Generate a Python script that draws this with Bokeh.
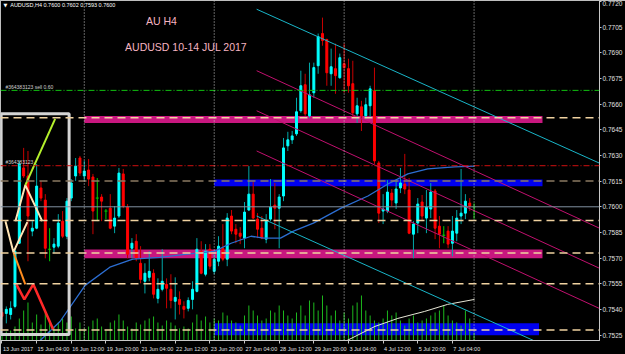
from bokeh.plotting import figure
from bokeh.models import Range1d, FixedTicker, Label, Span, PrintfTickFormatter
from bokeh.embed import file_html
from bokeh.resources import INLINE

# ---------------- data (AUDUSD H4, bars from 13 Jun 20:00 to 10 Jul 00:00) ----------------
opens = [0.75383, 0.75377, 0.75371, 0.75418, 0.75787, 0.76227, 0.76180, 0.75858, 0.75875, 0.76110,
         0.76039, 0.75752, 0.75764, 0.75770, 0.75916, 0.75828, 0.76051, 0.76180, 0.76285, 0.76180,
         0.76215, 0.76174, 0.76051, 0.76057, 0.75975, 0.75992, 0.75887, 0.75946, 0.76192, 0.75998,
         0.75758, 0.75799, 0.75670, 0.75565, 0.75588, 0.75612, 0.75465, 0.75518, 0.75547, 0.75518,
         0.75448, 0.75459, 0.75418, 0.75407, 0.75459, 0.75506, 0.75740, 0.75606, 0.75752, 0.75623,
         0.75682, 0.75758, 0.75694, 0.75946, 0.75869, 0.75846, 0.75817, 0.75981, 0.76074, 0.75928,
         0.75875, 0.75811, 0.75928, 0.76010, 0.75992, 0.76063, 0.76356, 0.76391, 0.76426, 0.76561,
         0.76713, 0.76531, 0.76666, 0.76824, 0.77012, 0.76977, 0.76777, 0.76807, 0.76754, 0.76836,
         0.76807, 0.76719, 0.76543, 0.76584, 0.76531, 0.76590, 0.76678, 0.76256, 0.75975, 0.75975,
         0.76080, 0.76022, 0.76110, 0.76133, 0.76098, 0.75840, 0.75905, 0.76028, 0.75934, 0.75987,
         0.76092, 0.75887, 0.75834, 0.75858, 0.75787, 0.75846, 0.75946, 0.75963, 0.76022, 0.76000]
highs = [0.75407, 0.75418, 0.75448, 0.75758, 0.76268, 0.76344, 0.76326, 0.75916, 0.76250, 0.76151,
         0.76074, 0.75875, 0.75817, 0.75957, 0.75975, 0.76051, 0.76162, 0.76285, 0.76297, 0.76268,
         0.76279, 0.76192, 0.76168, 0.76074, 0.75987, 0.76074, 0.76004, 0.76227, 0.76221, 0.76016,
         0.75817, 0.75840, 0.75770, 0.75670, 0.75740, 0.75635, 0.75582, 0.75752, 0.75582, 0.75606,
         0.75588, 0.75506, 0.75448, 0.75471, 0.75565, 0.75817, 0.75799, 0.75782, 0.75782, 0.75723,
         0.75828, 0.75899, 0.75963, 0.75981, 0.75899, 0.75881, 0.76028, 0.76238, 0.76145, 0.75963,
         0.75946, 0.75957, 0.76162, 0.76139, 0.76074, 0.76402, 0.76438, 0.76443, 0.76637, 0.76795,
         0.76777, 0.76842, 0.76842, 0.77012, 0.77105, 0.76982, 0.76924, 0.76953, 0.76895, 0.76953,
         0.76865, 0.76853, 0.76637, 0.76619, 0.76637, 0.76707, 0.76813, 0.76268, 0.76074, 0.76156,
         0.76104, 0.76156, 0.76227, 0.76309, 0.76168, 0.75916, 0.76051, 0.76069, 0.76098, 0.76139,
         0.76104, 0.75946, 0.75887, 0.75887, 0.75946, 0.75981, 0.76221, 0.76074, 0.76051, 0.76020]
lows = [0.75342, 0.75319, 0.75342, 0.75407, 0.75782, 0.76168, 0.75682, 0.75828, 0.75869, 0.76033,
        0.75699, 0.75682, 0.75729, 0.75758, 0.75817, 0.75811, 0.76033, 0.76151, 0.76180, 0.76151,
        0.76121, 0.75840, 0.75916, 0.75916, 0.75928, 0.75869, 0.75846, 0.75934, 0.75992, 0.75699,
        0.75699, 0.75682, 0.75553, 0.75494, 0.75565, 0.75465, 0.75436, 0.75506, 0.75407, 0.75407,
        0.75342, 0.75371, 0.75348, 0.75389, 0.75401, 0.75500, 0.75606, 0.75594, 0.75635, 0.75606,
        0.75653, 0.75682, 0.75653, 0.75840, 0.75787, 0.75782, 0.75758, 0.75975, 0.75928, 0.75817,
        0.75811, 0.75787, 0.75916, 0.75869, 0.75758, 0.76033, 0.76326, 0.76367, 0.76414, 0.76549,
        0.76531, 0.76520, 0.76637, 0.76777, 0.76941, 0.76707, 0.76707, 0.76660, 0.76748, 0.76666,
        0.76666, 0.76520, 0.76490, 0.76443, 0.76514, 0.76520, 0.76250, 0.75905, 0.75899, 0.75963,
        0.76004, 0.75987, 0.76080, 0.76074, 0.75840, 0.75699, 0.75846, 0.75916, 0.75846, 0.75934,
        0.75811, 0.75758, 0.75787, 0.75758, 0.75711, 0.75799, 0.75899, 0.75928, 0.75975, 0.75930]
closes = [0.75360, 0.75401, 0.75407, 0.75740, 0.76250, 0.76180, 0.75946, 0.75875, 0.76121, 0.76051,
          0.75758, 0.75752, 0.75782, 0.75905, 0.75828, 0.76033, 0.76139, 0.76238, 0.76197, 0.76209,
          0.76162, 0.75975, 0.76051, 0.76033, 0.75975, 0.75875, 0.75934, 0.76197, 0.76004, 0.75723,
          0.75787, 0.75699, 0.75576, 0.75612, 0.75623, 0.75489, 0.75518, 0.75565, 0.75524, 0.75453,
          0.75471, 0.75430, 0.75401, 0.75453, 0.75518, 0.75752, 0.75612, 0.75740, 0.75653, 0.75694,
          0.75770, 0.75694, 0.75934, 0.75858, 0.75840, 0.75828, 0.75969, 0.76074, 0.75934, 0.75869,
          0.75817, 0.75916, 0.75998, 0.75992, 0.76057, 0.76344, 0.76391, 0.76414, 0.76555, 0.76707,
          0.76543, 0.76654, 0.76813, 0.76994, 0.76971, 0.76783, 0.76818, 0.76766, 0.76871, 0.76813,
          0.76707, 0.76549, 0.76590, 0.76531, 0.76596, 0.76689, 0.76268, 0.75963, 0.75987, 0.76086,
          0.76039, 0.76104, 0.76139, 0.76104, 0.75846, 0.75899, 0.76016, 0.75946, 0.75998, 0.76086,
          0.75875, 0.75840, 0.75834, 0.75782, 0.75858, 0.75934, 0.75963, 0.76033, 0.76004, 0.76000]
volumes = [1500, 2250, 2500, 3500, 5500, 7500, 9500, 4500, 6500, 4000,
           7500, 5000, 3500, 4500, 5500, 4500, 6000, 3000, 4500, 3000,
           3500, 5000, 5500, 3500, 2500, 4500, 5000, 6500, 5000, 3500,
           3000, 4500, 4000, 5000, 5500, 6000, 4500, 3750, 5000, 4500,
           3750, 3000, 3500, 3000, 4500, 6500, 5000, 6000, 4500, 5500,
           5000, 7000, 6250, 5000, 4500, 3750, 6250, 8750, 7500, 6250,
           5000, 5500, 7500, 7000, 8750, 7500, 6250, 5500, 7000, 8750,
           6250, 10000, 9500, 7500, 11250, 8750, 6250, 7500, 5000, 7000,
           5500, 8750, 9500, 11250, 7500, 6250, 5000, 4500, 5500, 7500,
           6250, 7000, 5000, 3750, 5500, 6250, 4500, 5000, 5500, 6250,
           7000, 7500, 8750, 6250, 5000, 4500, 3750, 7500, 5500, 2000]

# x-axis labels (bar index -> label)
label_bars = [0, 8, 16, 24, 32, 40, 48, 56, 64, 72, 80, 88, 96, 104]
label_texts = ["13 Jun 2017", "15 Jun 04:00", "16 Jun 12:00", "19 Jun 20:00", "21 Jun 04:00",
               "22 Jun 12:00", "23 Jun 20:00", "27 Jun 04:00", "28 Jun 12:00", "29 Jun 20:00",
               "3 Jul 04:00", "4 Jul 12:00", "5 Jul 20:00", "7 Jul 04:00"]
price_ticks = [0.7525, 0.7540, 0.7555, 0.7570, 0.7585, 0.7600, 0.7615, 0.7630, 0.7645,
               0.7660, 0.7675, 0.7690, 0.7705, 0.7720]

# moving averages (bar index, price)
ma_blue_x = [8.1, 13.4, 19.2, 24.9, 30.2, 36.4, 42.8, 49.0, 52.9, 57.5, 60.4, 64.3, 67.3, 71.9,
             78.3, 84.5, 89.1, 93.7, 98.3, 104.5, 109.1]
ma_blue_y = [0.75202, 0.75330, 0.75541, 0.75647, 0.75694, 0.75705, 0.75723, 0.75740, 0.75787,
             0.75828, 0.75817, 0.75817, 0.75858, 0.75905, 0.75992, 0.76063, 0.76133, 0.76192,
             0.76221, 0.76233, 0.76238]
ma_white_x = [79.2, 86.1, 91.4, 97.6, 102.9, 109.1]
ma_white_y = [0.75213, 0.75301, 0.75348, 0.75389, 0.75430, 0.75459]

# horizontal levels
level_prices = [0.7652, 0.7615, 0.7592, 0.7573, 0.7555, 0.7528]
level_colors = ["#F0D2A0", "#8A7A62", "#F0D2A0", "#F0D2A0", "#F0D2A0", "#F0D2A0"]
order_price = 0.7668
tp_price = 0.7624
bid_price = 0.7600

# zones (rectangles)
zone_left = [19, 19, 49, 49]
zone_right = [124.8, 124.8, 124.8, 124.0]
zone_top = [0.7653, 0.7575, 0.7616, 0.7532]
zone_bottom = [0.7649, 0.7570, 0.7612, 0.7525]
zone_color = ["#C8177F", "#C8177F", "#0000F0", "#0000F0"]

# channel lines (start bar, start price, end bar, end price)
chan_x0 = [58.8, 58.8, 58.8, 58.8, 58.8]
chan_y0 = [0.77154, 0.76795, 0.76561, 0.76326, 0.75946]
chan_x1 = [138.3, 138.3, 138.3, 138.3, 138.3]
chan_y1 = [0.76251, 0.75871, 0.75637, 0.75402, 0.75042]
chan_color = ["#19B5C8", "#C0106E", "#C0106E", "#C0106E", "#19B5C8"]

# pattern drawing inside the left box
lime_x, lime_y = [5.39, 12.27], [0.76127, 0.76514]
cream1_x, cream1_y = [3.10, 5.39, 9.29], [0.75916, 0.76127, 0.75916]
cream2_x, cream2_y = [0.80, 2.64, 5.85], [0.75916, 0.75735, 0.75910]
orange_x, orange_y = [2.64, 5.39], [0.75735, 0.75547]
red_x, red_y = [3.33, 5.16, 7.22, 11.81], [0.75547, 0.75459, 0.75547, 0.75284]
box_left, box_right, box_top, box_bottom = -0.2, 15.5, 0.76543, 0.75254

separators = [19, 49, 79, 109]

# ---------------- figure ----------------
N = len(opens)
xs = list(range(N))
FONT = "Liberation Sans"
XFS = 5.5          # x-axis label font size (px)
BAR_PX = 4.36      # pixels per bar


def text_width(t, fs):
    w = 0.0
    for ch in t:
        if ch.isdigit():
            w += 0.556
        elif ch in " :":
            w += 0.278
        elif ch in "l":
            w += 0.222
        elif ch in "J":
            w += 0.5
        else:
            w += 0.556
    return w * fs


p = figure(width=625, height=354, x_range=Range1d(-0.344, 137.96), y_range=Range1d(0.75219, 0.77205),
           output_backend="svg", toolbar_location=None, y_axis_location="right",
           background_fill_color="black", border_fill_color="black",
           min_border_left=0, min_border_top=0, min_border_right=0, min_border_bottom=0,
           outline_line_color="#BEBEBE", outline_line_width=1)
p.grid.visible = False
p.extra_y_ranges = {"vol": Range1d(0, 85000)}

# zones
p.quad(left=zone_left, right=zone_right, top=zone_top, bottom=zone_bottom,
       fill_color=zone_color, line_color=None)

# volumes
p.segment(x0=xs, y0=[0] * N, x1=xs, y1=volumes, y_range_name="vol", line_color="#1DB81D", line_width=1)

# candles
kind = ["up" if c > o else ("down" if c < o else "doji") for o, c in zip(opens, closes)]
wick_col = {"up": "#00A8A8", "down": "#C80000", "doji": "#00D000"}
body_col = {"up": "#00FFFF", "down": "#FF0000"}
p.segment(x0=xs, y0=lows, x1=xs, y1=highs, line_color=[wick_col[k] for k in kind], line_width=1)
bi = [i for i in xs if kind[i] != "doji"]
p.vbar(x=bi, width=0.45, top=[max(opens[i], closes[i]) for i in bi],
       bottom=[min(opens[i], closes[i]) for i in bi],
       fill_color=[body_col[kind[i]] for i in bi], line_color=[body_col[kind[i]] for i in bi], line_width=1)
di = [i for i in xs if kind[i] == "doji"]
p.segment(x0=[i - 0.35 for i in di], y0=[opens[i] for i in di], x1=[i + 0.35 for i in di],
          y1=[opens[i] for i in di], line_color="#00D000", line_width=1)

# moving averages
p.line(ma_blue_x, ma_blue_y, line_color="#2C6ED2", line_width=1.3)
p.line(ma_white_x, ma_white_y, line_color="#E6E6D6", line_width=1)

# channel
p.segment(x0=chan_x0, y0=chan_y0, x1=chan_x1, y1=chan_y1, line_color=chan_color, line_width=1)

# left pattern box + drawings
p.quad(left=[box_left], right=[box_right], top=[box_top], bottom=[box_bottom],
       fill_color=None, line_color="#D4D4D4", line_width=3)
p.line(cream1_x, cream1_y, line_color="#FFE4B5", line_width=2)
p.line(cream2_x, cream2_y, line_color="#FFE4B5", line_width=2)
p.line(lime_x, lime_y, line_color="#B4F02C", line_width=2)
p.line(orange_x, orange_y, line_color="#FF8C1E", line_width=2)
p.line(red_x, red_y, line_color="#FF2828", line_width=2.5)

# horizontal lines
for pr, col in zip(level_prices, level_colors):
    p.add_layout(Span(location=pr, dimension="width", line_color=col, line_width=1.5, line_dash="8 5"))
p.add_layout(Span(location=order_price, dimension="width", line_color="#10C010", line_width=1, line_dash="6 2 1 2"))
p.add_layout(Span(location=tp_price, dimension="width", line_color="#D01010", line_width=1, line_dash="6 2 1 2"))
p.add_layout(Span(location=bid_price, dimension="width", line_color="#8090A0", line_width=1))
for s in separators:
    p.add_layout(Span(location=s, dimension="height", line_color="#C8C8C8", line_width=1, line_dash="1 2"))

# axes: x labels start at their bar (MT4 style), so the centred tick is shifted by half a label
xa = p.xaxis[0]
tick_pos = [round(b + (text_width(t, XFS) / 2 + 1) / BAR_PX, 3) for b, t in zip(label_bars, label_texts)]
xa.ticker = FixedTicker(ticks=tick_pos, minor_ticks=label_bars)
xa.major_label_overrides = {tp: t for tp, t in zip(tick_pos, label_texts)}
xa.major_tick_out = 0
xa.major_tick_in = 0
xa.minor_tick_out = 3
xa.minor_tick_in = 0
xa.minor_tick_line_color = "#C8C8C8"
xa.axis_line_color = "#C8C8C8"
xa.major_label_text_color = "#E0E0E0"
xa.major_label_text_font = FONT
xa.major_label_text_font_size = "%spx" % XFS
xa.major_label_standoff = 2

ya = p.yaxis[0]
ya.ticker = FixedTicker(ticks=price_ticks)
ya.formatter = PrintfTickFormatter(format="%.4f")
ya.major_tick_out = 2
ya.major_tick_in = 0
ya.minor_tick_out = 0
ya.minor_tick_in = 0
ya.major_tick_line_color = "#C8C8C8"
ya.axis_line_color = "#C8C8C8"
ya.major_label_text_color = "#E0E0E0"
ya.major_label_text_font = FONT
ya.major_label_text_font_size = "6.5px"
ya.major_label_standoff = 1

# highlighted price labels on the axis
for pr in level_prices:
    p.add_layout(Label(x=138.5, y=pr, text="%.4f" % pr, text_font=FONT, text_font_size="6.5px",
                       text_color="#000000", text_baseline="middle", text_align="left",
                       background_fill_color="#F2D9AE", border_line_color="#F2D9AE"))
p.add_layout(Label(x=138.5, y=bid_price, text="%.4f" % bid_price, text_font=FONT, text_font_size="6.5px",
                   text_color="#000000", text_baseline="middle", text_align="left",
                   background_fill_color="#FFFFFF", border_line_color="#9AA6B2"))

# texts
p.add_layout(Label(x=0.35, y=0.77176, text="\u25bc", text_font="DejaVu Sans", text_font_size="5px",
                   text_color="#FFFFFF", text_baseline="middle", text_align="left"))
p.add_layout(Label(x=1.9, y=0.77176, text="AUDUSD,H4  0.7600 0.7602 0.7593 0.7600", text_font=FONT,
                   text_font_size="5.5px", text_color="#FFFFFF", text_baseline="middle", text_align="left"))
p.add_layout(Label(x=36.8, y=0.77088, text="AU H4", text_font=FONT, text_font_size="10.5px",
                   text_color="#F6B4C0", text_baseline="middle", text_align="center"))
p.add_layout(Label(x=42.5, y=0.76936, text="AUDUSD 10-14 JUL 2017", text_font=FONT, text_font_size="10.5px",
                   text_color="#F6B4C0", text_baseline="middle", text_align="center"))
p.add_layout(Label(x=0.8, y=0.76698, text="#364383123 sell 0.60", text_font=FONT, text_font_size="5px",
                   text_color="#D0D0D0", text_baseline="middle", text_align="left"))
p.add_layout(Label(x=0.8, y=0.76262, text="#364383123", text_font=FONT, text_font_size="5px",
                   text_color="#D0D0D0", text_baseline="middle", text_align="left"))

open("out.html", "w").write(file_html(p, INLINE))
